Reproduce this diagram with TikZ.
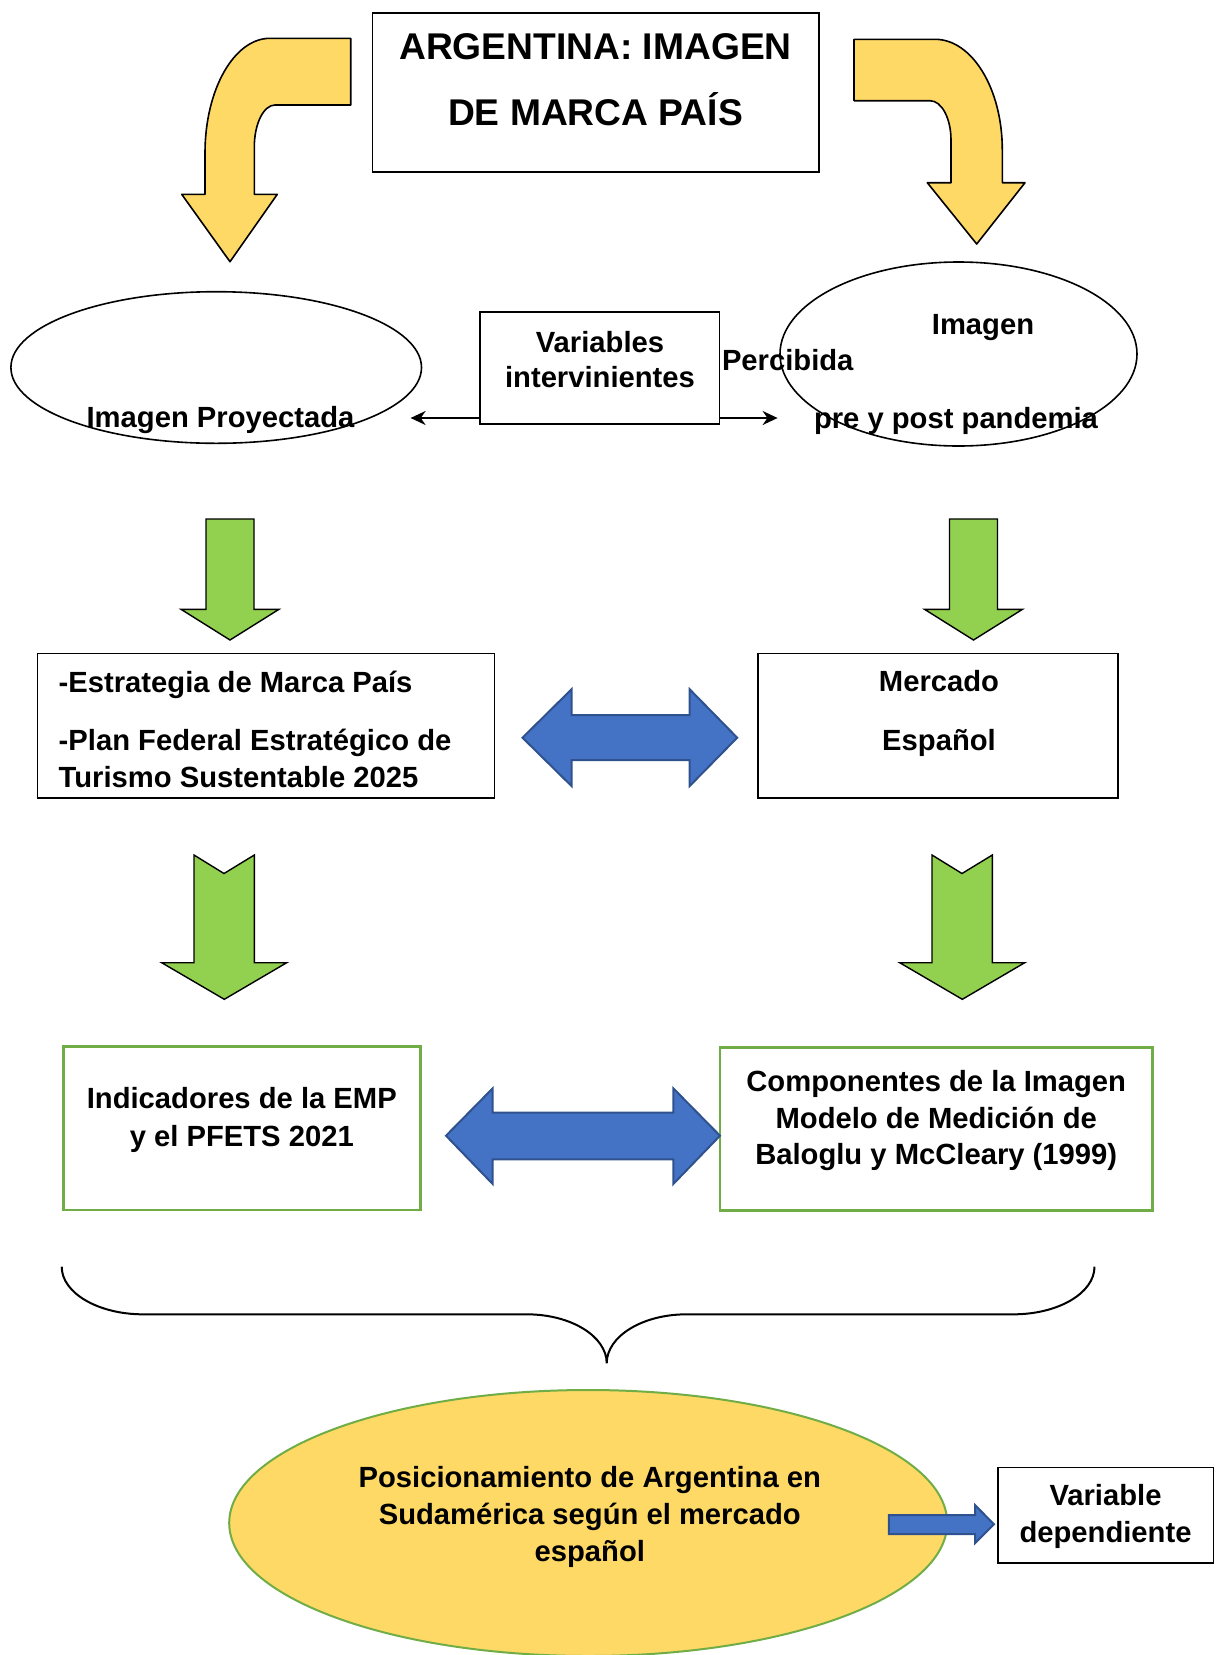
\documentclass[tikz,border=0pt]{standalone}
\usepackage{fontspec}
\setmainfont{Liberation Sans}
\usetikzlibrary{shapes.geometric,arrows.meta}

\definecolor{argyellow}{HTML}{FFD966}
\definecolor{arggreen}{HTML}{92D050}
\definecolor{argblue}{HTML}{4472C4}
\definecolor{argbluedark}{HTML}{2F528F}
\definecolor{boxgreen}{HTML}{70AD47}

\tikzset{
  box/.style={draw, line width=0.8pt, inner sep=0pt},
  gbox/.style={draw=boxgreen, line width=1.3pt, inner sep=0pt},
  oval/.style={ellipse, draw, line width=0.8pt, inner sep=0pt},
  txt/.style={font=\bfseries\fontsize{14.6}{18.3}\selectfont, align=center, inner sep=0pt},
  yarrow/.style={fill=argyellow, draw=black, line width=0.8pt, line join=round},
  garrow/.style={fill=arggreen, draw=black, line width=0.7pt},
  barrow/.style={fill=argblue, draw=argbluedark, line width=1pt},
  thinarr/.style={-{Stealth[length=7.5pt,width=7pt]}, line width=1pt}
}

\begin{document}
\begin{tikzpicture}[x=0.5pt,y=-0.5pt]
\useasboundingbox (0,0) rectangle (1219,1655);

% title
\node[box, minimum width=223.2pt, minimum height=79.5pt] (tit) at (595.5,92.2) {};
\node[txt, font=\bfseries\fontsize{18.6}{33}\selectfont] (titT) at (595.5,80) {ARGENTINA: IMAGEN\\DE MARCA PAÍS};

% curved yellow arrows
\draw[yarrow] (350.7,38.3) -- (270,38.3) .. controls (234.1,38.3) and (205,89.6) .. (205,153)
  -- (205,194.3) -- (181.7,194.3) -- (230,261.7) -- (277.3,194.3) -- (254.3,194.3) -- (254.3,147)
  .. controls (254.3,123.8) and (263.6,105) .. (275,105) -- (350.7,105) -- cycle;
\draw[yarrow] (854,39.3) -- (935,39.3) .. controls (972.2,39.3) and (1002.3,88.9) .. (1002.3,150)
  -- (1002.3,182.7) -- (1025,182.7) -- (976.7,244) -- (927.3,182.7) -- (951,182.7) -- (951,140)
  .. controls (951,118.3) and (941.6,100.7) .. (930,100.7) -- (854,100.7) -- cycle;

% ellipses and variables
\node[oval, minimum width=205.3pt, minimum height=75.8pt] (ip) at (216.2,367.5) {};
\node[oval, minimum width=178.5pt, minimum height=92pt] (ipc) at (958.5,354) {};
\node[box, minimum width=119.8pt, minimum height=56.2pt] (vb) at (599.5,367.9) {};
\node[txt, font=\bfseries\fontsize{14.6}{17.5}\selectfont] (vbT) at (600,359.5) {Variables\\intervinientes};
\node[txt] (ipT) at (220.5,420.5) {Imagen Proyectada};
\node[txt] (ipc1) at (983,327.5) {Imagen};
\node[txt, anchor=west] (ipc2) at (721.6,360) {Percibida};
\node[txt] (ipc3) at (956,420.5) {pre y post pandemia};
\coordinate (pl) at (410.6,418);
\coordinate (pr) at (777.6,418);
\draw[thinarr] (vb.west |- pl) -- (pl);
\draw[thinarr] (vb.east |- pr) -- (pr);

% green arrows
\foreach \dx in {0,743.5}
  \draw[garrow, shift={(\dx,0)}] (206,519) -- (254,519) -- (254,609.3) -- (279,609.3)
    -- (230,640) -- (181,609.3) -- (206,609.3) -- cycle;

% boxes, second row
\node[box, minimum width=228.6pt, minimum height=72.2pt] (emp) at (266,725.5) {};
\node[txt, align=left, anchor=west] (empT) at (58.3,729.4)
  {-Estrategia de Marca País\\[10.9pt]-Plan Federal Estratégico de\\Turismo Sustentable 2025};
\node[box, minimum width=180pt, minimum height=72.2pt] (me) at (938,725.5) {};
\node[txt] (meT) at (939,713.5) {Mercado\\[10.9pt]Español};
\draw[barrow] (522.5,737.7) -- (571.5,689.3) -- (571.5,715) -- (689.7,715) -- (689.7,689.3)
  -- (737.2,737.7) -- (689.7,786) -- (689.7,760) -- (571.5,760) -- (571.5,786) -- cycle;

% notched green arrows
\foreach \dx in {0,738}
  \draw[garrow, shift={(\dx,0)}] (194,855) -- (224,873.5) -- (254.3,855) -- (254.3,962.7)
    -- (286.7,962.7) -- (224.3,999.3) -- (161.7,962.7) -- (194,962.7) -- cycle;

% boxes, third row
\node[gbox, minimum width=178.5pt, minimum height=81.6pt] (ind) at (242.2,1128.3) {};
\node[txt, font=\bfseries\fontsize{14.6}{18.9}\selectfont] (indT) at (241.8,1120) {Indicadores de la EMP\\y el PFETS 2021};
\node[gbox, minimum width=216.2pt, minimum height=81.7pt] (comp) at (936.2,1129) {};
\node[txt] (compT) at (936.2,1120.5) {Componentes de la Imagen\\Modelo de Medición de\\Baloglu y McCleary (1999)};
\draw[barrow] (446,1135.7) -- (492.7,1088.3) -- (492.7,1112.7) -- (673.3,1112.7) -- (673.3,1088.3)
  -- (720,1135.7) -- (673.3,1184) -- (673.3,1159.3) -- (492.7,1159.3) -- (492.7,1184) -- cycle;

% brace
\draw[line width=1pt] (61.7,1266.7) .. controls (61.7,1293) and (98.3,1314.3) .. (143,1314.3)
  -- (526.7,1314.3) .. controls (570.9,1314.3) and (606.7,1336.2) .. (606.7,1363.3)
  .. controls (606.7,1336.2) and (642.5,1314.3) .. (686.7,1314.3)
  -- (1013.5,1314.3) .. controls (1058.2,1314.3) and (1094.5,1293) .. (1094.5,1266.7);

% result
\node[ellipse, fill=argyellow, draw=boxgreen, line width=1pt, inner sep=0pt,
  minimum width=359pt, minimum height=133pt] (pos) at (588.2,1523) {};
\node[txt] (posT) at (589.8,1517) {Posicionamiento de Argentina en\\Sudamérica según el mercado\\español};
\node[box, minimum width=107.8pt, minimum height=47.7pt] (vd) at (1105.8,1515) {};
\node[txt] (vdT) at (1105.5,1516.5) {Variable\\dependiente};
\draw[barrow] (888.8,1515) -- (975,1515) -- (975,1505) -- (994,1524.3) -- (975,1543.3)
  -- (975,1534) -- (888.8,1534) -- cycle;
\end{tikzpicture}
\end{document}
